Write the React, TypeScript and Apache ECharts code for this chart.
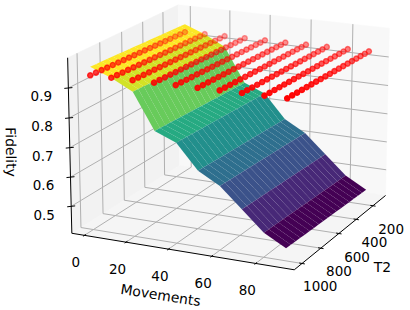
import React, { useEffect, useRef } from "react";
import * as echarts from "echarts";

const movements = [0, 10, 20, 30, 40, 50, 60, 70, 80, 90];
const t2Values = [100, 150, 200, 250, 300, 350, 400, 450, 500, 550, 600, 650, 700, 750, 800, 850, 900, 950, 1000];
const t2Loss = [0.016, 0.0152, 0.0143, 0.0134, 0.0125, 0.0116, 0.0107, 0.0098, 0.0089, 0.008, 0.0071, 0.0062, 0.0053, 0.0044, 0.0035, 0.0027, 0.0018, 0.0009, 0];
const surfaceFidelity = [0.9607, 0.9322, 0.8959, 0.7751, 0.7461, 0.6632, 0.6229, 0.5562, 0.4895, 0.449];
const pointFidelity = [0.9322, 0.933, 0.934, 0.935, 0.936, 0.9365, 0.9375, 0.938, 0.939, 0.9397];
const xTicks = [0, 20, 40, 60, 80];
const t2Ticks = [200, 400, 600, 800, 1000];
const zTicks = [0.5, 0.6, 0.7, 0.8, 0.9];

const xLim = [-6.1, 97.2];
const tLim = [43.5, 1080.5];
const zLim = [0.407, 1.0];

const elev = (17 * Math.PI) / 180;
const azim = (25 * Math.PI) / 180;
const DIST = 10;
const SCALE = 209;
const OX = 232.8;
const OY = 129.3;
const BX = 1.143;
const BZ = 0.857;

const viridis = ["#440154", "#482475", "#414487", "#355f8d", "#2a788e", "#21918c", "#22a884", "#44bf70", "#7ad151", "#bddf26", "#fde725"];

function hexRgb(h: string) {
  return [1, 3, 5].map((k) => parseInt(h.slice(k, k + 2), 16));
}
function cmap(v: number) {
  const p = Math.max(0, Math.min(1, v)) * 10;
  const i = Math.min(9, Math.floor(p));
  const a = hexRgb(viridis[i]);
  const b = hexRgb(viridis[i + 1]);
  const f = p - i;
  return `rgb(${a.map((c, k) => Math.round(c + (b[k] - c) * f)).join(",")})`;
}

function view(x: number, t: number, z: number) {
  const X = ((x - xLim[0]) / (xLim[1] - xLim[0]) - 0.5) * BX;
  const Y = ((t - tLim[0]) / (tLim[1] - tLim[0]) - 0.5) * BX;
  const Z = ((z - zLim[0]) / (zLim[1] - zLim[0]) - 0.5) * BZ;
  const sx = X * Math.cos(azim) - Y * Math.sin(azim);
  const h = X * Math.sin(azim) + Y * Math.cos(azim);
  const su = -h * Math.sin(elev) + Z * Math.cos(elev);
  const w = h * Math.cos(elev) + Z * Math.sin(elev);
  return { sx, su, w, h };
}
function proj(x: number, t: number, z: number): number[] {
  const v = view(x, t, z);
  const f = DIST / (DIST - v.w);
  return [OX + SCALE * v.sx * f, OY - SCALE * v.su * f];
}

const GRID = "#b0b0b0";
const FONT = "DejaVu Sans";
const TICK_SIZE = 13.5;
const TITLE_SIZE = 13.9;

function App() {
  const ref = useRef<HTMLDivElement>(null);
  useEffect(() => {
    const chart = echarts.init(ref.current!, undefined, { renderer: "svg" });
    const [x0, x1] = xLim;
    const [tF, tN] = tLim;
    const [z0, z1] = zLim;

    const poly = (api: any, pts: number[][], fill: string) => ({
      type: "polygon",
      shape: { points: pts.map((p) => api.coord(p)) },
      style: { fill, stroke: fill, lineWidth: 0.5 },
    });
    const seg = (api: any, a: number[], b: number[], stroke: string, lineWidth: number) => {
      const p = api.coord(a);
      const q = api.coord(b);
      return {
        type: "line",
        shape: { x1: p[0], y1: p[1], x2: q[0], y2: q[1] },
        style: { stroke, lineWidth },
      };
    };
    const label = (api: any, at: number[], text: string, size: number, rotation = 0) => {
      const p = api.coord(at);
      return {
        type: "text",
        x: p[0],
        y: p[1],
        rotation,
        style: {
          text,
          x: 0,
          y: 0,
          fill: "#000",
          fontFamily: FONT,
          fontSize: size,
          align: "center",
          verticalAlign: "middle",
        },
      };
    };

    const renderFrame = (_: any, api: any) => {
      const c: any[] = [];
      c.push(poly(api, [proj(x0, tF, z0), proj(x0, tN, z0), proj(x0, tN, z1), proj(x0, tF, z1)], "#f2f2f2"));
      c.push(poly(api, [proj(x0, tF, z0), proj(x1, tF, z0), proj(x1, tF, z1), proj(x0, tF, z1)], "#f8f8f8"));
      c.push(poly(api, [proj(x0, tF, z0), proj(x1, tF, z0), proj(x1, tN, z0), proj(x0, tN, z0)], "#f5f5f5"));
      for (const x of xTicks) {
        c.push(seg(api, proj(x, tN, z0), proj(x, tF, z0), GRID, 1));
        c.push(seg(api, proj(x, tF, z0), proj(x, tF, z1), GRID, 1));
      }
      for (const t of t2Ticks) {
        c.push(seg(api, proj(x1, t, z0), proj(x0, t, z0), GRID, 1));
        c.push(seg(api, proj(x0, t, z0), proj(x0, t, z1), GRID, 1));
      }
      for (const z of zTicks) {
        c.push(seg(api, proj(x0, tN, z), proj(x0, tF, z), GRID, 1));
        c.push(seg(api, proj(x0, tF, z), proj(x1, tF, z), GRID, 1));
      }
      c.push(seg(api, proj(x0, tN, z0), proj(x1, tN, z0), "#000", 1));
      c.push(seg(api, proj(x1, tN, z0), proj(x1, tF, z0), "#000", 1));
      c.push(seg(api, proj(x0, tN, z0), proj(x0, tN, z1), "#000", 1));
      const xd = (tN - tF) * 0.012;
      const yd = (x1 - x0) * 0.012;
      for (const x of xTicks) {
        c.push(seg(api, proj(x, tN + xd, z0), proj(x, tN - xd, z0), "#000", 1));
        const p = proj(x, tN, z0);
        c.push(label(api, [p[0] - 8.5, p[1] + 26.5], String(x), TICK_SIZE));
      }
      for (const t of t2Ticks) {
        c.push(seg(api, proj(x1 + yd, t, z0), proj(x1 - yd, t, z0), "#000", 1));
        const p = proj(x1, t, z0);
        c.push(label(api, [p[0] + 18.2, p[1] + 23], String(t), TICK_SIZE));
      }
      for (const z of zTicks) {
        c.push(seg(api, proj(x0 - yd, tN + xd, z), proj(x0 + yd, tN - xd, z), "#000", 1));
        const p = proj(x0, tN, z);
        c.push(label(api, [p[0] - 27, p[1] + 8.3], z.toFixed(1), TICK_SIZE));
      }
      c.push(label(api, [160.7, 295], "Movements", TITLE_SIZE, (-9 * Math.PI) / 180));
      c.push(label(api, [382.3, 267.3], "T2", TITLE_SIZE));
      c.push(label(api, [11, 152], "Fidelity", TITLE_SIZE, (-89 * Math.PI) / 180));
      return { type: "group", children: c };
    };

    const avg: number[] = surfaceFidelity.slice(1).map((v, i) => (v + surfaceFidelity[i]) / 2);
    const aMin = Math.min(...avg);
    const aMax = Math.max(...avg);
    const cells: number[][] = [];
    for (let i = 0; i < movements.length - 1; i++) {
      for (let j = 0; j < t2Values.length - 1; j++) cells.push([i, j]);
    }
    const cellDepth = (c: number[]) =>
      view((movements[c[0]] + movements[c[0] + 1]) / 2, (t2Values[c[1]] + t2Values[c[1] + 1]) / 2, avg[c[0]]).w;
    cells.sort((a, b) => cellDepth(a) - cellDepth(b));

    const renderCell = (_: any, api: any) => {
      const i = api.value(0);
      const j = api.value(1);
      const pts = [
        proj(movements[i], t2Values[j], surfaceFidelity[i] - t2Loss[j]),
        proj(movements[i + 1], t2Values[j], surfaceFidelity[i + 1] - t2Loss[j]),
        proj(movements[i + 1], t2Values[j + 1], surfaceFidelity[i + 1] - t2Loss[j + 1]),
        proj(movements[i], t2Values[j + 1], surfaceFidelity[i] - t2Loss[j + 1]),
      ];
      return {
        type: "polygon",
        shape: { points: pts.map((p) => api.coord(p)) },
        style: { fill: cmap((avg[i] - aMin) / (aMax - aMin)) },
      };
    };

    const pts: number[][] = [];
    for (let i = 0; i < movements.length; i++) {
      for (let j = 0; j < t2Values.length; j++) pts.push([i, j]);
    }
    const ptDepth = (c: number[]) => view(movements[c[0]], t2Values[c[1]], pointFidelity[c[0]]).w;
    pts.sort((a, b) => ptDepth(a) - ptDepth(b));
    const dMin = ptDepth(pts[0]);
    const dMax = ptDepth(pts[pts.length - 1]);

    const renderPoint = (_: any, api: any) => {
      const i = api.value(0);
      const j = api.value(1);
      const z = pointFidelity[i] - t2Loss[j];
      const p = api.coord(proj(movements[i], t2Values[j], z));
      const alpha = 0.3 + 0.7 * ((view(movements[i], t2Values[j], pointFidelity[i]).w - dMin) / (dMax - dMin));
      return {
        type: "circle",
        shape: { cx: p[0], cy: p[1], r: 2.6 },
        style: { fill: `rgba(255,0,0,${alpha})`, stroke: `rgba(255,0,0,${alpha})`, lineWidth: 1.4 },
      };
    };

    chart.setOption({
      animation: false,
      backgroundColor: "#fff",
      grid: { left: 0, right: 0, top: 0, bottom: 0 },
      xAxis: { type: "value", min: 0, max: 410, show: false },
      yAxis: { type: "value", min: 0, max: 310, inverse: true, show: false },
      series: [
        { type: "custom", coordinateSystem: "cartesian2d", silent: true, clip: false, z: 1, data: [[0, 0]], renderItem: renderFrame },
        { type: "custom", coordinateSystem: "cartesian2d", silent: true, clip: false, z: 2, data: cells, renderItem: renderCell },
        { type: "custom", coordinateSystem: "cartesian2d", silent: true, clip: false, z: 3, data: pts, renderItem: renderPoint },
      ],
    });
    return () => chart.dispose();
  }, []);
  return <div ref={ref} style={{ position: "fixed", left: 0, top: 0, width: 410, height: 310 }} />;
}

export default App;
